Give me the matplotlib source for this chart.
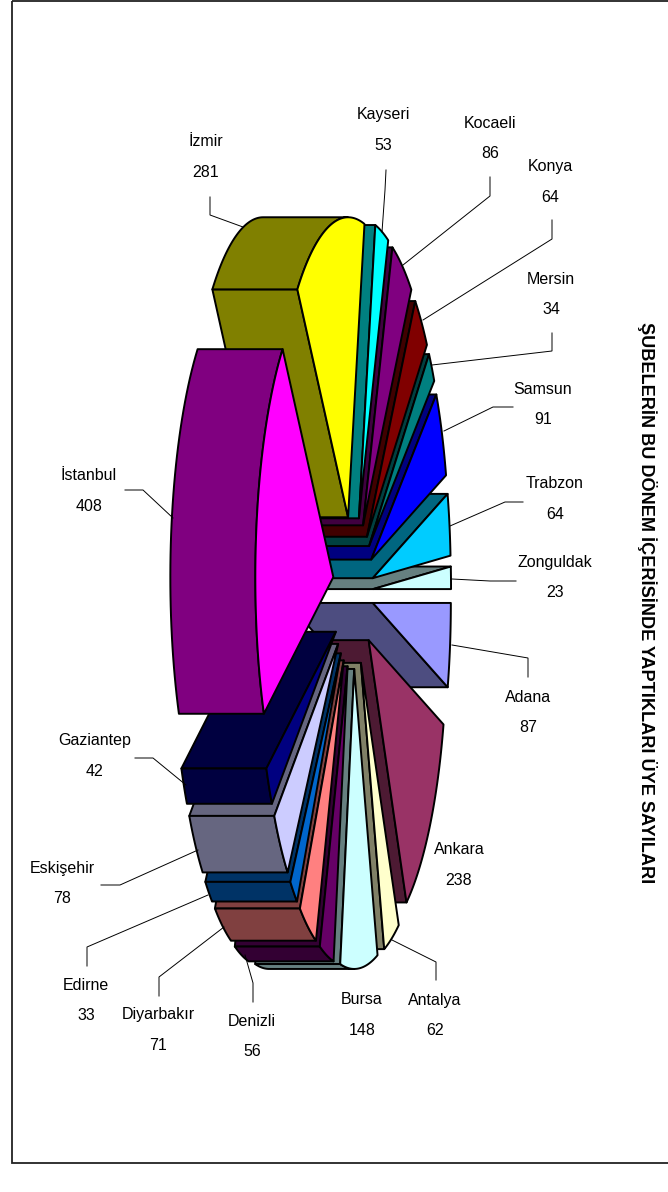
import numpy as np
import matplotlib
matplotlib.use("Agg")
import matplotlib.pyplot as plt
from matplotlib.patches import Polygon, Rectangle

plt.rcParams['font.family'] = ['Liberation Sans', 'DejaVu Sans']

# ---- data ----
cities = ["Adana", "Ankara", "Antalya", "Bursa", "Denizli", "Diyarbakır", "Edirne",
          "Eskişehir", "Gaziantep", "İstanbul", "İzmir", "Kayseri", "Kocaeli",
          "Konya", "Mersin", "Samsun", "Trabzon", "Zonguldak"]
members = [87, 238, 62, 148, 56, 71, 33, 78, 42, 408, 281, 53, 86, 64, 34, 91, 64, 23]
face_colors = ["#9999FF", "#993366", "#FFFFCC", "#CCFFFF", "#660066", "#FF8080", "#0066CC",
               "#CCCCFF", "#000080", "#FF00FF", "#FFFF00", "#00FFFF", "#800080",
               "#800000", "#008080", "#0000FF", "#00CCFF", "#CCFFFF"]
title = "ŞUBELERİN BU DÖNEM İÇERİSİNDE YAPTIKLARI ÜYE SAYILARI"

# ---- layout (pixels) ----
W, H = 668, 1192
CX, CY = 353, 592
RX, RY = 78, 300
EXPLODE = 0.257
DEPTH = 85
label_pos = {
    "Adana": (528, 697), "Ankara": (459, 850), "Antalya": (435, 1000), "Bursa": (362, 1000),
    "Denizli": (252, 1021), "Diyarbakır": (158, 1015), "Edirne": (86, 985),
    "Eskişehir": (62, 868), "Gaziantep": (95, 741), "İstanbul": (89, 476), "İzmir": (206, 142),
    "Kayseri": (383, 115), "Kocaeli": (490, 123), "Konya": (550, 167), "Mersin": (551, 279),
    "Samsun": (543, 389), "Trabzon": (555, 484), "Zonguldak": (555, 562)}
leaders = {
    "İzmir": [(210, 197), (210, 215), (243, 227)],
    "Kayseri": [(386, 170), (385, 190), (382, 232)],
    "Kocaeli": [(490, 177), (490, 196), (403, 265)],
    "Konya": [(552, 220), (552, 239), (423, 320)],
    "Mersin": [(552, 333), (552, 351), (432, 365)],
    "Samsun": [(513, 407), (493, 407), (444, 431)],
    "Trabzon": [(523, 502), (505, 502), (450, 526)],
    "Zonguldak": [(516, 581), (490, 581), (452, 579)],
    "Adana": [(528, 677), (528, 658), (452, 645)],
    "Antalya": [(436, 980), (436, 962), (392, 940)],
    "Denizli": [(253, 1002), (253, 983), (245, 955)],
    "Diyarbakır": [(159, 996), (159, 977), (224, 927)],
    "Edirne": [(87, 966), (87, 947), (208, 895)],
    "Eskişehir": [(101, 885), (120, 885), (198, 850)],
    "Gaziantep": [(135, 758), (153, 758), (186, 785)],
    "İstanbul": [(125, 490), (143, 490), (173, 518)],
}

fig = plt.figure(figsize=(W / 100, H / 100), dpi=100)
ax = fig.add_axes([0, 0, 1, 1])
ax.set_xlim(0, W)
ax.set_ylim(H, 0)
ax.axis("off")
ax.add_patch(Rectangle((12, 0.5), W, 1162, fill=False, ec="#222222", lw=1.3))


def dark(c):
    return tuple(0.5 * v for v in matplotlib.colors.to_rgb(c))


values = np.array(members, float)
edges = np.concatenate([[0], np.cumsum(values)]) / values.sum() * 2 * np.pi
mids = (edges[:-1] + edges[1:]) / 2
LW = 1.4


def rim(ax0, ay0, t):
    return np.column_stack([ax0 + RX * np.cos(t), ay0 + RY * np.sin(t)])


for i in np.argsort(-np.cos(mids)):
    t0, t1 = edges[i], edges[i + 1]
    ax0 = CX + EXPLODE * RX * np.cos(mids[i])
    ay0 = CY + EXPLODE * RY * np.sin(mids[i])
    col, dk = face_colors[i], dark(face_colors[i])
    apex = np.array([ax0, ay0])
    shift = np.array([-DEPTH, 0.0])
    # radial side walls (the one facing the extrusion direction)
    for t, sign in ((t0, -1), (t1, 1)):
        p = rim(ax0, ay0, np.array([t]))[0]
        d = p - apex
        normal_x = sign * -d[1]  # outward normal for a clockwise (y-down) wedge
        if normal_x < 0:
            ax.add_patch(Polygon([apex, p, p + shift, apex + shift], closed=True,
                                 fc=dk, ec="black", lw=LW, joinstyle="round"))
    # outer rim wall, visible where the ellipse faces left
    a, b = max(t0, np.pi / 2), min(t1, 3 * np.pi / 2)
    if b > a:
        ts = np.linspace(a, b, 40)
        arc = rim(ax0, ay0, ts)
        ax.add_patch(Polygon(np.vstack([arc, (arc + shift)[::-1]]), closed=True,
                             fc=dk, ec="black", lw=LW, joinstyle="round"))
    # bright top face
    ts = np.linspace(t0, t1, 60)
    ax.add_patch(Polygon(np.vstack([apex, rim(ax0, ay0, ts)]), closed=True,
                         fc=col, ec="black", lw=LW, joinstyle="round"))

# labels
for name, v in zip(cities, members):
    x, y = label_pos[name]
    ax.text(x, y, name, ha="center", va="center", fontsize=11.5, color="black")
    ax.text(x, y + 30.5, str(v), ha="center", va="center", fontsize=11.5, color="black")
    if name in leaders:
        pts = np.array(leaders[name])
        ax.plot(pts[:, 0], pts[:, 1], color="black", lw=0.7, solid_joinstyle="miter")

ax.text(647, 603, title, rotation=-90, ha="center", va="center",
        fontsize=13.1, fontweight="bold", color="black")

fig.savefig("out.png", dpi=100)
